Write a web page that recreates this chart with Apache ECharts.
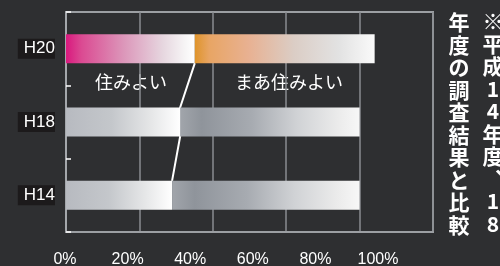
<!DOCTYPE html>
<html><head><meta charset="utf-8">
<script src="https://cdn.jsdelivr.net/npm/echarts@6/dist/echarts.min.js"></script>
<style>html,body{margin:0;padding:0;background:#2e2f31;}#c{width:500px;height:266px;}</style>
</head><body><div id="c"></div>
<script>
// categories (bottom to top)
const categories = ['H14', 'H18', 'H20'];
// segment lengths read against the gridline scale (0-100 across the plot frame)
const sumiyoi = [28.9, 31.1, 35.1];        // 住みよい
const maaSumiyoi = [51.1, 48.9, 49.0];     // まあ住みよい
// tick labels printed under the chart
const tickLabels = ['0%', '20%', '40%', '60%', '80%', '100%'];
const segLabels = ['住みよい', 'まあ住みよい'];
const noteCol1 = '※平成14年度︑18';
const noteCol2 = '年度の調査結果と比較';

const grad = (stops) => ({type:'linear', x:0, y:0, x2:1, y2:0,
  colorStops: stops.map(s => ({offset:s[0], color:s[1]}))});
const pink = grad([[0,'#d9187e'],[0.12,'#db4a92'],[0.45,'#dc97ba'],[0.75,'#e6d6df'],[0.92,'#f6f4f5'],[1,'#ffffff']]);
const orange = grad([[0,'#df942b'],[0.08,'#e8a564'],[0.3,'#e8b192'],[0.55,'#dbcdc5'],[0.8,'#e2e2e2'],[1,'#fafafa']]);
const gray1 = grad([[0,'#b7bac0'],[0.4,'#c4c7cb'],[0.75,'#e6e7e8'],[1,'#ffffff']]);
const gray2 = grad([[0,'#a1a5ab'],[0.12,'#8f949b'],[0.4,'#a7abb1'],[0.65,'#d0d2d5'],[0.88,'#ebebeb'],[1,'#f7f7f7']]);
const firstColors = [gray1, gray1, pink];
const secondColors = [gray2, gray2, orange];

// connector: boundary of bar i (top edge) to boundary of bar below; half bar height in category units
const half = 0.198;
const connector = [];
for (let i = categories.length - 1; i > 0; i--) {
  connector.push([sumiyoi[i], i + 0.5 - half]);
  connector.push([sumiyoi[i-1], i - 0.5 + half]);
}

const chart = echarts.init(document.getElementById('c'));
chart.setOption({
  backgroundColor: '#2e2f31',
  animation: false,
  grid: [
    {left: 66, right: 67, top: 12, bottom: 34, show: true, borderColor: '#9c9fa3', borderWidth: 2, backgroundColor: 'transparent'},
    {left: 65, width: 313, top: 240, height: 1}
  ],
  xAxis: [
    {gridIndex: 0, type: 'value', min: 0, max: 100, interval: 20,
     axisLabel: {show: false}, axisTick: {show: false},
     axisLine: {show: true, lineStyle: {color: '#9c9fa3', width: 2}},
     splitLine: {show: true, lineStyle: {color: '#8a8d91', width: 1.5}}},
    {gridIndex: 1, type: 'value', min: 0, max: 100, interval: 20,
     axisLine: {show: false}, axisTick: {show: false}, splitLine: {show: false},
     axisLabel: {show: true, margin: 11, color: '#ffffff', fontSize: 16,
       fontFamily: 'Liberation Sans', formatter: (v) => tickLabels[Math.round(v / 20)]}}
  ],
  yAxis: [
    {gridIndex: 0, type: 'category', data: categories,
     axisLine: {show: true, lineStyle: {color: '#a4a7ab', width: 2}},
     axisTick: {show: true, inside: true, length: 5, lineStyle: {color: '#ffffff', width: 1.5}},
     axisLabel: {margin: 11, color: '#ffffff', fontSize: 17, fontFamily: 'Liberation Sans',
       backgroundColor: '#1c1a1b', padding: [2, 0, 1, 6]},
     splitLine: {show: false}},
    {gridIndex: 0, type: 'value', min: 0, max: 3, show: false},
    {gridIndex: 1, type: 'value', show: false}
  ],
  series: [
    {type: 'line', xAxisIndex: 0, yAxisIndex: 1, z: 1, data: connector,
     symbol: 'none', lineStyle: {color: '#ffffff', width: 2}},
    {type: 'bar', xAxisIndex: 0, yAxisIndex: 0, stack: 'a', barWidth: 29, z: 3,
     data: sumiyoi.map((v, i) => ({value: v, itemStyle: {color: firstColors[i]}}))},
    {type: 'bar', xAxisIndex: 0, yAxisIndex: 0, stack: 'a', barWidth: 29, z: 3,
     data: maaSumiyoi.map((v, i) => ({value: v, itemStyle: {color: secondColors[i]}}))}
  ],
  graphic: [
    {type: 'text', x: 131, y: 82, style: {text: segLabels[0], fill: '#ffffff', fontSize: 18,
      fontFamily: 'Noto Sans CJK JP', align: 'center', verticalAlign: 'middle'}},
    {type: 'text', x: 289, y: 82, style: {text: segLabels[1], fill: '#ffffff', fontSize: 18,
      fontFamily: 'Noto Sans CJK JP', align: 'center', verticalAlign: 'middle'}},
    {type: 'text', x: 493, y: 10, style: {text: noteCol1.split('').join('\n'), fill: '#ffffff',
      fontSize: 21, fontWeight: 'bold', lineHeight: 22.5, fontFamily: 'Noto Sans CJK JP', align: 'center', verticalAlign: 'top'}},
    {type: 'text', x: 459, y: 11, style: {text: noteCol2.split('').join('\n'), fill: '#ffffff',
      fontSize: 21, fontWeight: 'bold', lineHeight: 22.5, fontFamily: 'Noto Sans CJK JP', align: 'center', verticalAlign: 'top'}}
  ]
});
</script></body></html>
